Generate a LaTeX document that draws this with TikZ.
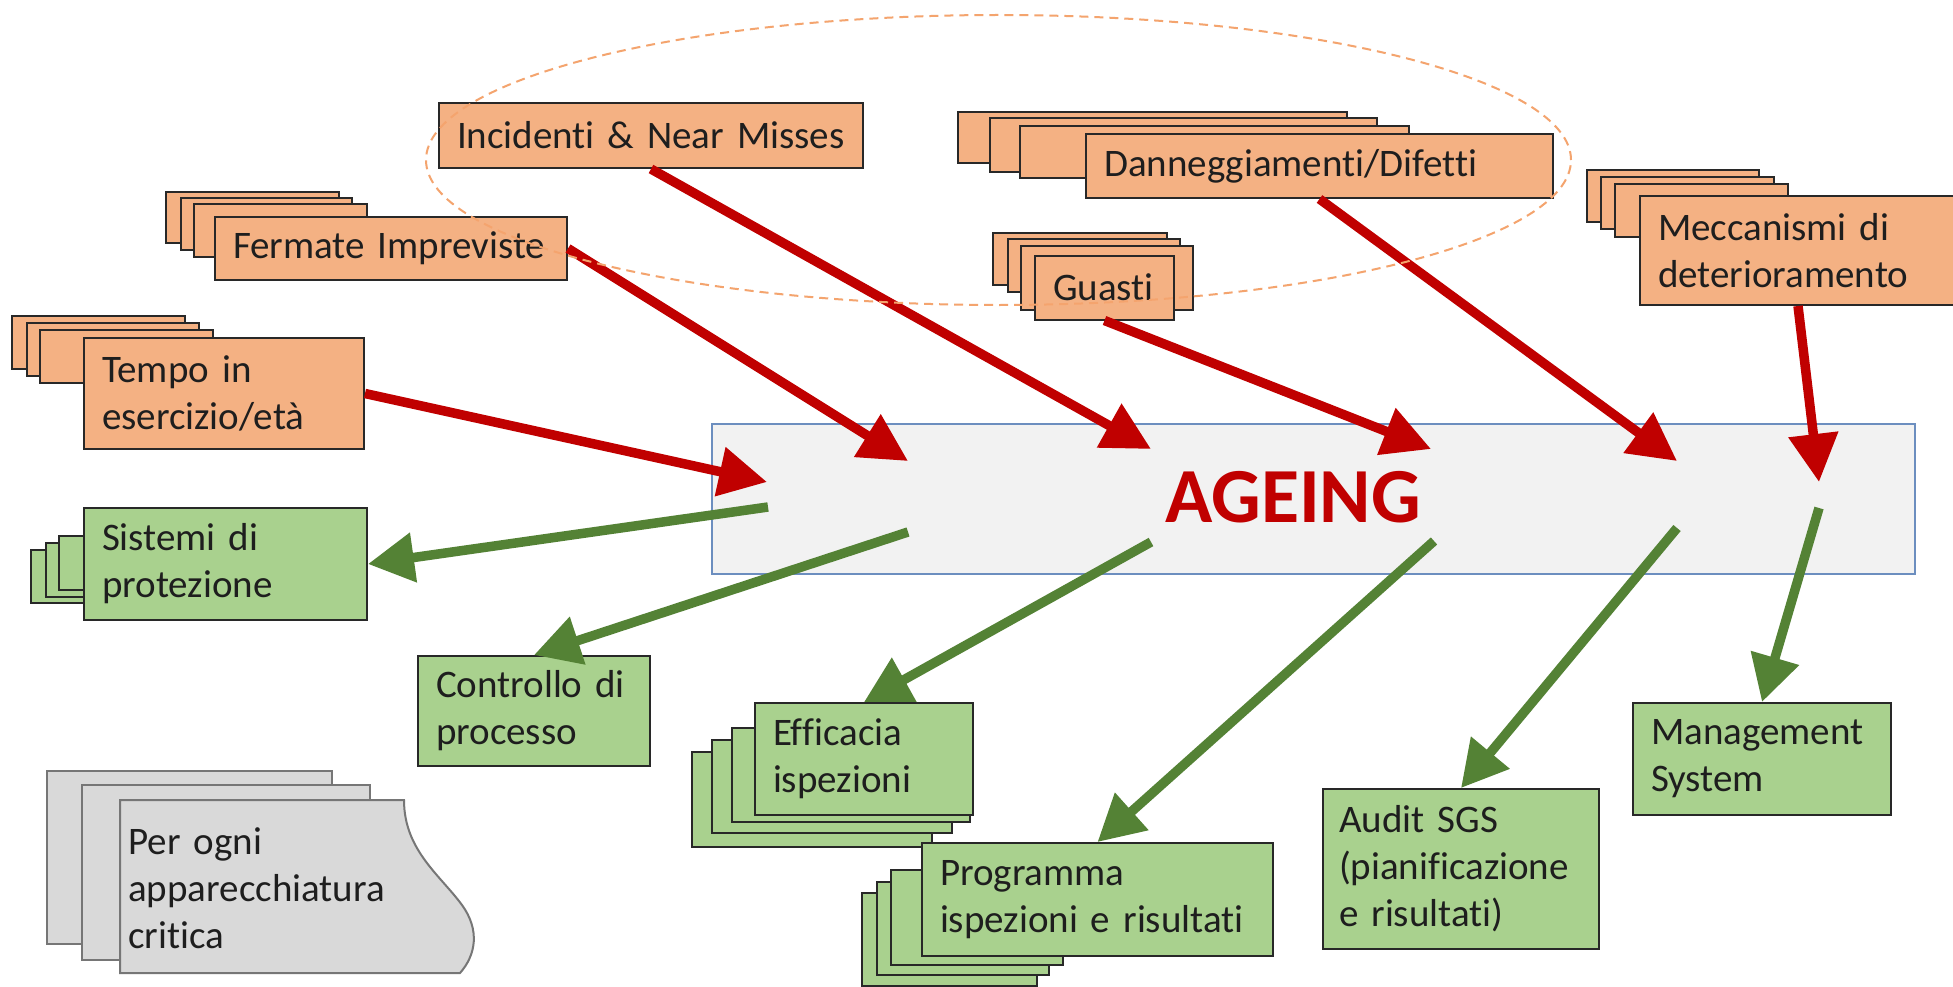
\documentclass[tikz,border=0pt]{standalone}
\usepackage{fontspec}
\setmainfont{Carlito}[Ligatures={NoCommon}]
\usetikzlibrary{arrows.meta}
\definecolor{ofill}{RGB}{244,177,131}
\definecolor{gfill}{RGB}{169,209,142}
\definecolor{grfill}{RGB}{217,217,217}
\definecolor{grline}{RGB}{118,118,118}
\definecolor{bline}{RGB}{40,40,40}
\definecolor{txt}{RGB}{30,30,30}
\definecolor{ared}{RGB}{192,0,0}
\definecolor{agreen}{RGB}{84,130,53}
\definecolor{abox}{RGB}{242,242,242}
\definecolor{aboxline}{RGB}{108,142,191}
\definecolor{ellcol}{RGB}{244,164,110}
\begin{document}
\begin{tikzpicture}[x=1pt,y=-1pt,
 lbl/.style={font=\fontsize{39}{47}\selectfont, text=txt, align=left, inner xsep=18pt, inner ysep=0pt},
 obox/.style={lbl, draw=bline, fill=ofill, line width=2pt},
 gbox/.style={lbl, draw=bline, fill=gfill, line width=2pt},
 oback/.style={draw=bline, fill=ofill, line width=1.6pt},
 gback/.style={draw=bline, fill=gfill, line width=1.6pt},
 grback/.style={draw=grline, fill=grfill, line width=2pt},
 redarr/.style={draw=ared, line width=9.5pt, -{Triangle[length=48pt,width=48pt]}},
 greenarr/.style={draw=agreen, line width=9.5pt, -{Triangle[length=46pt,width=48pt]}},
]
\path[use as bounding box] (0,0) rectangle (1953,987);
\fill[white] (0,0) rectangle (1953,987);
\clip (0,0) rectangle (1953,987);

% central box
\node[draw=aboxline, fill=abox, line width=1.5pt, minimum width=1203pt, minimum height=150pt, inner sep=0pt] (ageingbox) at (1313.5,499) {};
\node[font=\fontsize{78}{90}\selectfont\bfseries, text=ared, anchor=base, inner sep=0pt] (ageing) at (1293,522) {AGEING};

% arrow anchor points inside the central box
\coordinate (r1) at (767,482);
\coordinate (r2) at (908,461);
\coordinate (r3) at (1151,449);
\coordinate (r4) at (1431,449);
\coordinate (r5) at (1677,461);
\coordinate (r6) at (1819,482);
\coordinate (g1) at (768,507);
\coordinate (g2) at (908,532);
\coordinate (g3) at (1151,542);
\coordinate (g4) at (1434,541);
\coordinate (g5) at (1677,528);
\coordinate (g6) at (1819,508);

% ---- orange causes ----
\node[obox, minimum width=424pt, minimum height=65pt, text width=388pt] (inc) at (651,135.5) {Incidenti \& Near Misses};

\draw[oback] (166,192) rectangle (339,243);
\draw[oback] (181,198) rectangle (352,250);
\draw[oback] (194,204) rectangle (367,257);
\node[obox, minimum width=352pt, minimum height=63pt, text width=316pt] (ferm) at (391,248.5) {Fermate Impreviste};

\draw[oback] (12,316) rectangle (185,369);
\draw[oback] (27,323) rectangle (199,376);
\draw[oback] (40,330) rectangle (213,383);
\node[obox, minimum width=280pt, minimum height=111pt, text width=244pt] (tempo) at (224,393.5) {Tempo in\\esercizio/età};

\draw[oback] (958,112) rectangle (1347,163);
\draw[oback] (990,118) rectangle (1377,172);
\draw[oback] (1020,126) rectangle (1409,178);
\node[obox, minimum width=467pt, minimum height=64pt, text width=431pt] (dann) at (1319.5,166) {Danneggiamenti/Difetti};

\draw[oback] (993,233) rectangle (1167,285);
\draw[oback] (1008,239) rectangle (1180,292);
\draw[oback] (1021,246) rectangle (1193,310);
\node[obox, minimum width=139pt, minimum height=64pt, text width=103pt] (guasti) at (1104.5,287.5) {Guasti};

\draw[oback] (1587,170) rectangle (1759,222);
\draw[oback] (1601,177) rectangle (1774,229);
\draw[oback] (1615,184) rectangle (1788,237);
\node[obox, minimum width=316pt, minimum height=109pt, text width=280pt] (mecc) at (1798,250.5) {Meccanismi di\\deterioramento};

% ---- green measures ----
\draw[gback] (31,550) rectangle (200,603);
\draw[gback] (46,543) rectangle (210,597);
\draw[gback] (59,536) rectangle (220,590);
\node[gbox, minimum width=283pt, minimum height=112pt, text width=247pt] (sist) at (225.5,564) {Sistemi di\\protezione};

\node[gbox, minimum width=232pt, minimum height=110pt, text width=196pt] (ctrl) at (534,711) {Controllo di\\processo};

\draw[gback] (692,752) rectangle (932,847);
\draw[gback] (712,740) rectangle (952,833);
\draw[gback] (732,728) rectangle (970,822);
\node[gbox, minimum width=218pt, minimum height=112pt, text width=182pt] (eff) at (864,759) {Efficacia\\ispezioni};

\draw[gback] (862,893) rectangle (1037,986);
\draw[gback] (877,882) rectangle (1049,975);
\draw[gback] (891,870) rectangle (1063,965);
\node[gbox, minimum width=351pt, minimum height=113pt, text width=315pt] (prog) at (1097.5,899.5) {Programma\\ispezioni e risultati};

\node[gbox, minimum width=276pt, minimum height=160pt, text width=244pt, inner xsep=16pt] (audit) at (1461,869) {Audit SGS\\(pianificazione\\e risultati)};

\node[gbox, minimum width=258pt, minimum height=112pt, text width=222pt] (mgmt) at (1762,759) {Management\\System};

% ---- grey document stack ----
\draw[grback] (47,771) rectangle (332,944);
\draw[grback] (82,785) rectangle (370,960);
\draw[grback] (120,800) -- (404,800) .. controls (404,850) and (440,875) .. (462,905)
  .. controls (480,930) and (476,955) .. (460,973) -- (120,973) -- cycle;
\node[lbl, inner sep=0pt, anchor=north west, text width=330pt] (perogni) at (128,827) {Per ogni\\apparecchiatura\\critica};

% ---- red arrows (causes) ----
\draw[redarr] (tempo.east) -- (r1);
\draw[redarr] (ferm.east) -- (r2);
\draw[redarr] (inc.south) -- (r3);
\draw[redarr] (guasti.south) -- (r4);
\draw[redarr] (dann.south) -- (r5);
\draw[redarr] (mecc.south) -- (r6);

% ---- green arrows (measures) ----
\draw[greenarr] (g1) -- (sist.east);
\draw[greenarr] (g2) -- (ctrl.north);
\draw[greenarr] (g3) -- (eff.north);
\draw[greenarr] (g4) -- (prog.north);
\draw[greenarr] (g5) -- (audit.north);
\draw[greenarr] (g6) -- (mgmt.north);

% ---- dashed grouping ellipse ----
\draw[draw=ellcol, line width=2pt, dash pattern=on 9pt off 6pt] (998.5,160) ellipse [x radius=572.5pt, y radius=145pt];
\end{tikzpicture}
\end{document}
